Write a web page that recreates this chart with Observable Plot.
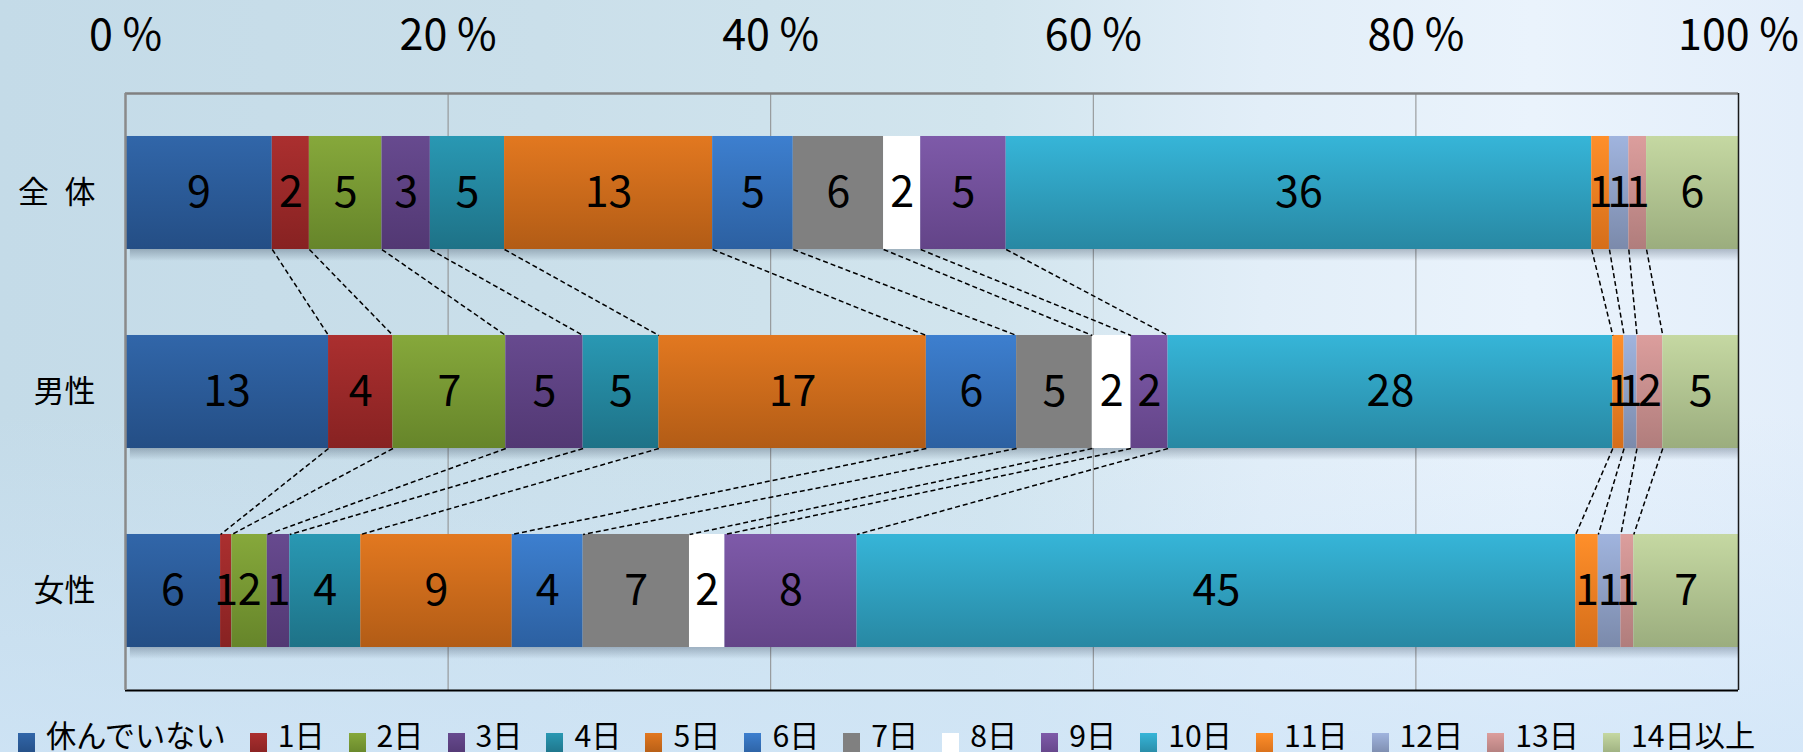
<!DOCTYPE html>
<html><head><meta charset="utf-8">
<script src="https://cdn.jsdelivr.net/npm/d3@7"></script>
<script src="https://cdn.jsdelivr.net/npm/@observablehq/plot@0.6"></script>
<style>
html,body{margin:0;padding:0;width:1803px;height:752px;overflow:hidden;}
body{position:relative;font-family:"Noto Sans CJK JP","Noto Sans",sans-serif;
background:
 linear-gradient(180deg, rgba(215,233,250,0) 55%, rgba(208,229,248,0.75) 100%),
 linear-gradient(90deg, #c4dbe8 0%, #cadfea 30%, #d2e5ee 55%, #e2eef8 70%, #eaf3fc 85%, #e3eefa 100%);}
#chart{position:absolute;left:0;top:0;}
#legend{position:absolute;left:18px;top:719px;display:flex;gap:24px;font-size:30.2px;line-height:30px;color:#000;white-space:nowrap;}
.item{display:flex;align-items:flex-start;}
.sw{width:17px;height:22px;margin-top:14px;margin-right:11px;}
</style></head><body>
<svg width="0" height="0" style="position:absolute"><defs id="defs">
<linearGradient id="shadow" x1="0" y1="0" x2="0" y2="1">
<stop offset="0" stop-color="#1a2a40" stop-opacity="0.28"/>
<stop offset="1" stop-color="#1a2a40" stop-opacity="0"/>
</linearGradient>
</defs></svg>
<div id="chart"></div>
<div id="legend"></div>
<script>
// ---- data ----
const groups = ["全\u2002体", "男性", "女性"];
const categories = ["休んでいない","1日","2日","3日","4日","5日","6日","7日","8日","9日","10日","11日","12日","13日","14日以上"];
const sharesAll    = [9.1, 2.3, 4.5, 3.0, 4.6, 12.9, 5.0, 5.6, 2.3, 5.3, 36.3, 1.1, 1.2, 1.1, 5.7];
const sharesMale   = [12.6, 4.0, 7.0, 4.8, 4.7, 16.6, 5.6, 4.7, 2.4, 2.3, 27.6, 0.7, 0.8, 1.6, 4.7];
const sharesFemale = [5.9, 0.7, 2.2, 1.4, 4.4, 9.4, 4.4, 6.6, 2.2, 8.2, 44.6, 1.4, 1.4, 0.8, 6.5];
const xTicks = [0, 20, 40, 60, 80, 100];

// ---- style ----
const gradTop = ["#3166a9","#ab2f2f","#86a83b","#674a8f","#2998b3","#e27820","#3d7fcf","#808080","#ffffff","#7e5aa9","#36b5d8","#ff8f2a","#a0b4de","#dc9e9d","#c5d8a2"];
const gradBot = ["#244e85","#872222","#66852a","#523873","#1e7287","#b25c16","#2c60a1","#808080","#ffffff","#634488","#2888a3","#d56e1a","#7b8aab","#b07d7c","#9bad7e"];
const FONT = "Noto Sans CJK JP, Noto Sans, sans-serif";

// gradients
const defs = document.getElementById("defs");
const NS = "http://www.w3.org/2000/svg";
categories.forEach((c, i) => {
  const g = document.createElementNS(NS, "linearGradient");
  g.setAttribute("id", "grad" + i);
  g.setAttribute("x1", "0"); g.setAttribute("y1", "0");
  g.setAttribute("x2", "0"); g.setAttribute("y2", "1");
  [[0, gradTop[i]], [1, gradBot[i]]].forEach(([o, col]) => {
    const s = document.createElementNS(NS, "stop");
    s.setAttribute("offset", o); s.setAttribute("stop-color", col);
    g.appendChild(s);
  });
  defs.appendChild(g);
});

// ---- derived tables ----
const series = [sharesAll, sharesMale, sharesFemale];
const cum = series.map(arr => {
  const total = d3.sum(arr);
  const c = [0];
  arr.forEach(v => c.push(c[c.length - 1] + v / total));
  return c;
});
const segs = [];
series.forEach((arr, gi) => arr.forEach((v, ci) => {
  segs.push({g: gi, cat: categories[ci], share: v, x1: cum[gi][ci], x2: cum[gi][ci + 1]});
}));
const H = 0.284;
const links = [];
for (let gi = 0; gi < 2; gi++) {
  for (let k = 1; k < categories.length; k++) {
    links.push({x1: cum[gi][k], x2: cum[gi + 1][k], y1: gi + H, y2: gi + 1 - H});
  }
}
const rows = groups.map((_, gi) => gi);

const chart = Plot.plot({
  width: 1803, height: 700,
  marginLeft: 125, marginRight: 65, marginTop: 93, marginBottom: 10,
  style: {background: "transparent", fontFamily: FONT, overflow: "visible"},
  x: {domain: [0, 1]},
  y: {domain: [-0.5, 2.5], reverse: true},
  color: {domain: categories, range: categories.map((_, i) => `url(#grad${i})`)},
  marks: [
    Plot.ruleX([0.2, 0.4, 0.6, 0.8], {stroke: "#8c8c8c", strokeWidth: 1}),
    Plot.rectX(rows, {x1: 0.003, x2: 1, y1: g => g + H, y2: g => g + H + 0.06, fill: "url(#shadow)"}),
    Plot.rectX(segs, {x1: "x1", x2: "x2", y1: d => d.g - H, y2: d => d.g + H, fill: "cat"}),
    Plot.link(links, {x1: "x1", x2: "x2", y1: "y1", y2: "y2", stroke: "#000", strokeWidth: 1.5, strokeDasharray: "5,3"}),
    Plot.text(segs, {x: d => (d.x1 + d.x2) / 2, y: "g", text: d => String(Math.round(d.share)), fontSize: 43, fill: "#000"}),
    Plot.ruleY([-0.5], {stroke: "#808080", strokeWidth: 2.5}),
    Plot.ruleY([2.5], {stroke: "#000", strokeWidth: 2}),
    Plot.ruleX([0], {stroke: "#8a8a8a", strokeWidth: 2.5}),
    Plot.ruleX([1], {stroke: "#1a1a1a", strokeWidth: 1.5}),
    Plot.axisX(xTicks.map(v => v / 100), {anchor: "top", tickSize: 0, tickPadding: 44, fontSize: 43, tickFormat: d => `${Math.round(d * 100)} %`, label: null, fill: "#000"}),
    Plot.axisY([0, 1, 2], {tickSize: 0, tickPadding: 30, fontSize: 31, tickFormat: i => groups[i], label: null, fill: "#000"})
  ]
});
document.getElementById("chart").appendChild(chart);

// legend
const legend = document.getElementById("legend");
categories.forEach((c, i) => {
  const it = document.createElement("div"); it.className = "item";
  const sw = document.createElement("div"); sw.className = "sw";
  sw.style.background = `linear-gradient(180deg, ${gradTop[i]}, ${gradBot[i]})`;
  const t = document.createElement("span"); t.textContent = c;
  it.appendChild(sw); it.appendChild(t); legend.appendChild(it);
});
</script>
</body></html>
